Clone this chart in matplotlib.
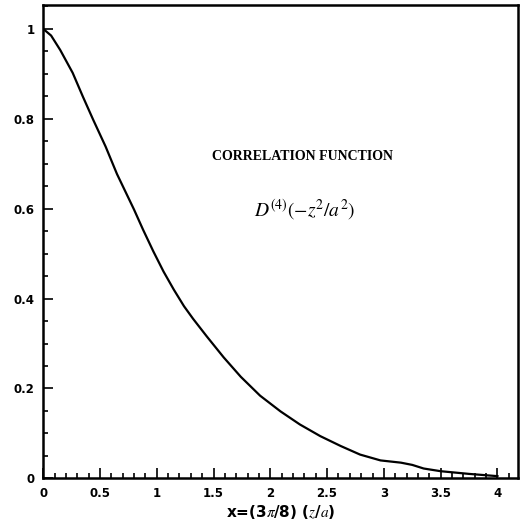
import numpy as np
import matplotlib.pyplot as plt
from matplotlib.ticker import MultipleLocator

# valori
x_vals = [0.0, 0.07, 0.15, 0.26, 0.35, 0.44, 0.55, 0.65, 0.8, 0.88, 0.97,
          1.06, 1.15, 1.24, 1.32, 1.44, 1.59, 1.74, 1.91, 2.09, 2.26, 2.44,
          2.62, 2.79, 2.97, 3.15, 3.25, 3.35, 3.5, 3.75, 4.0]
y_vals = [1.0, 0.985, 0.953, 0.902, 0.849, 0.798, 0.738, 0.677, 0.598, 0.553,
          0.505, 0.46, 0.42, 0.383, 0.355, 0.316, 0.269, 0.226, 0.184, 0.149,
          0.12, 0.094, 0.072, 0.053, 0.04, 0.035, 0.03, 0.022, 0.016, 0.01,
          0.005]

x_ticks = [0, 0.5, 1, 1.5, 2, 2.5, 3, 3.5, 4]
x_tick_labels = ['0', '0.5', '1', '1.5', '2', '2.5', '3', '3.5', '4']
y_ticks = [0, 0.2, 0.4, 0.6, 0.8, 1]
y_tick_labels = ['0', '0.2', '0.4', '0.6', '0.8', '1']

plt.rcParams['mathtext.fontset'] = 'stix'

fig = plt.figure(figsize=(5.2, 5.26), dpi=100)
ax = fig.add_axes([0.083, 0.0905, 0.913, 0.9])

ax.plot(x_vals, y_vals, color='black', lw=1.6, solid_joinstyle='round')

ax.set_xlim(0, 4.18)
ax.set_ylim(0, 1.053)

ax.set_xticks(x_ticks)
ax.set_xticklabels(x_tick_labels)
ax.set_yticks(y_ticks)
ax.set_yticklabels(y_tick_labels)
ax.xaxis.set_minor_locator(MultipleLocator(0.1))
ax.yaxis.set_minor_locator(MultipleLocator(0.05))

ax.tick_params(which='both', direction='in', width=1.2)
ax.tick_params(which='major', length=7, labelsize=8.5, pad=6)
ax.tick_params(which='minor', length=3.5)
for lab in ax.get_xticklabels() + ax.get_yticklabels():
    lab.set_fontweight('bold')
for sp in ax.spines.values():
    sp.set_linewidth(1.8)

ax.set_xlabel(r'x=(3$\pi$/8) ($z$/$a$)', fontsize=11, fontweight='bold', labelpad=2)

ax.text(2.28, 0.716, 'CORRELATION FUNCTION', ha='center', va='center',
        fontsize=10, family='Liberation Serif', fontweight='bold')
ax.text(2.3, 0.598, r'$\mathit{D}^{(4)}(-z^2/a^2)$', ha='center', va='center',
        fontsize=14)

fig.savefig('out.png', dpi=100)
